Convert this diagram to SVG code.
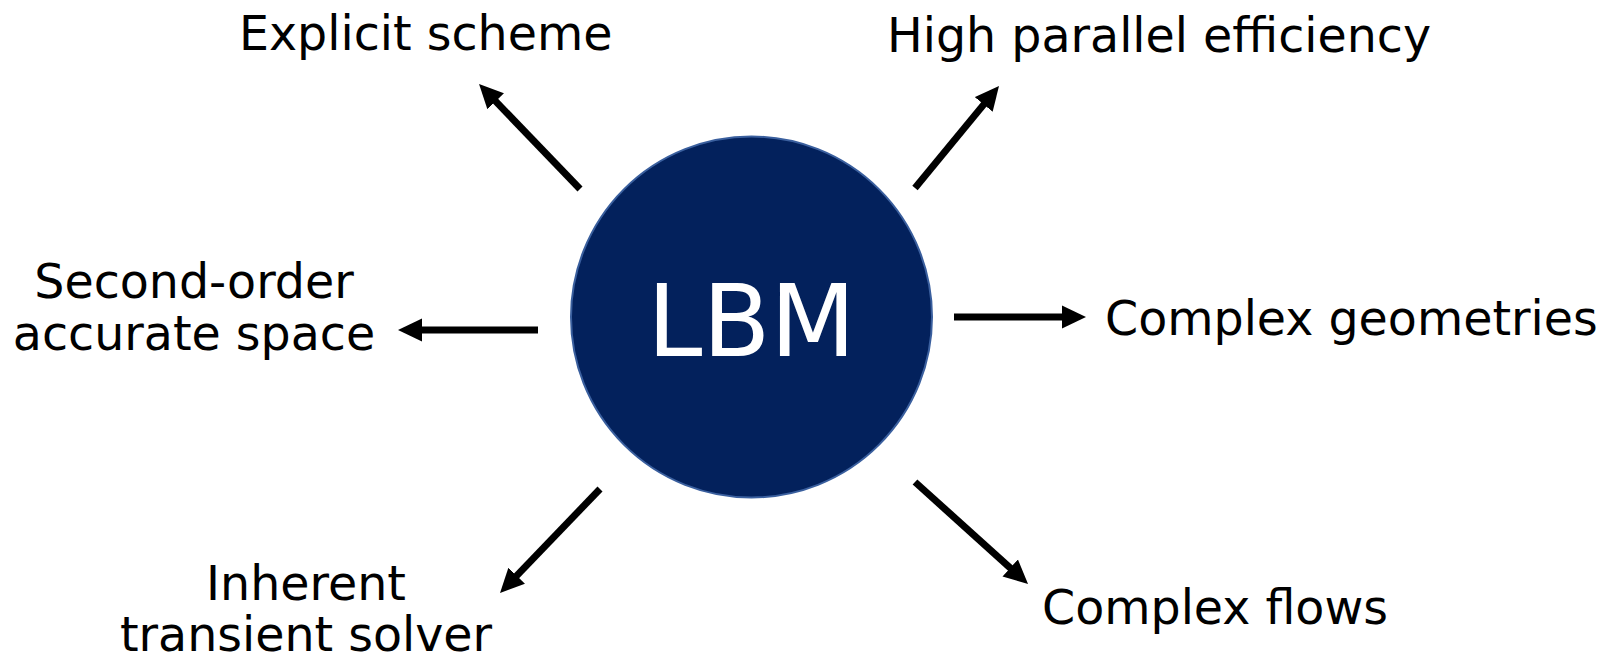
<svg xmlns="http://www.w3.org/2000/svg" width="1618" height="656" viewBox="0 0 1618 656">
  <style>
    .label { font-family: "DejaVu Sans", Verdana, sans-serif; font-size: 47.5px; fill: #000000; }
    .center-label { font-family: "DejaVu Sans", Verdana, sans-serif; font-size: 99px; fill: #ffffff; }
    .arrow { stroke: #000000; stroke-width: 7; fill: none; marker-end: url(#head); }
  </style>
  <defs>
    <marker id="head" markerUnits="userSpaceOnUse" markerWidth="24" markerHeight="24" refX="4" refY="11.5" orient="auto" viewBox="0 0 24 23">
      <path d="M0,0 L24,11.5 L0,23 z" fill="#000000"/>
    </marker>
  </defs>

  <rect width="1618" height="656" fill="#ffffff"/>

  <!-- central node -->
  <g id="lbm">
    <circle cx="751.5" cy="317" r="180.5" fill="#03215c" stroke="#3a5f9e" stroke-width="2"/>
    <text class="center-label" x="751.5" y="356" text-anchor="middle">LBM</text>
  </g>

  <!-- arrows radiating from the centre -->
  <g id="connectors">
    <line class="arrow" x1="580" y1="189" x2="492.9" y2="98.4"/>
    <line class="arrow" x1="915" y1="188" x2="986.3" y2="101.4"/>
    <line class="arrow" x1="538" y1="330" x2="418" y2="330"/>
    <line class="arrow" x1="954" y1="317" x2="1066" y2="317"/>
    <line class="arrow" x1="600" y1="489" x2="513.9" y2="578.6"/>
    <line class="arrow" x1="915" y1="482" x2="1013.2" y2="570.6"/>
  </g>

  <g id="explicit-scheme">
    <text class="label" x="239" y="50">Explicit scheme</text>
  </g>
  <g id="high-parallel-efficiency">
    <text class="label" x="887" y="52">High parallel efficiency</text>
  </g>
  <g id="second-order">
    <text class="label" x="194" y="298" text-anchor="middle">Second-order</text>
    <text class="label" x="194" y="350" text-anchor="middle">accurate space</text>
  </g>
  <g id="complex-geometries">
    <text class="label" x="1105" y="335">Complex geometries</text>
  </g>
  <g id="inherent-transient-solver">
    <text class="label" x="306" y="600" text-anchor="middle">Inherent</text>
    <text class="label" x="306" y="651" text-anchor="middle">transient solver</text>
  </g>
  <g id="complex-flows">
    <text class="label" x="1042" y="624">Complex flows</text>
  </g>
</svg>
